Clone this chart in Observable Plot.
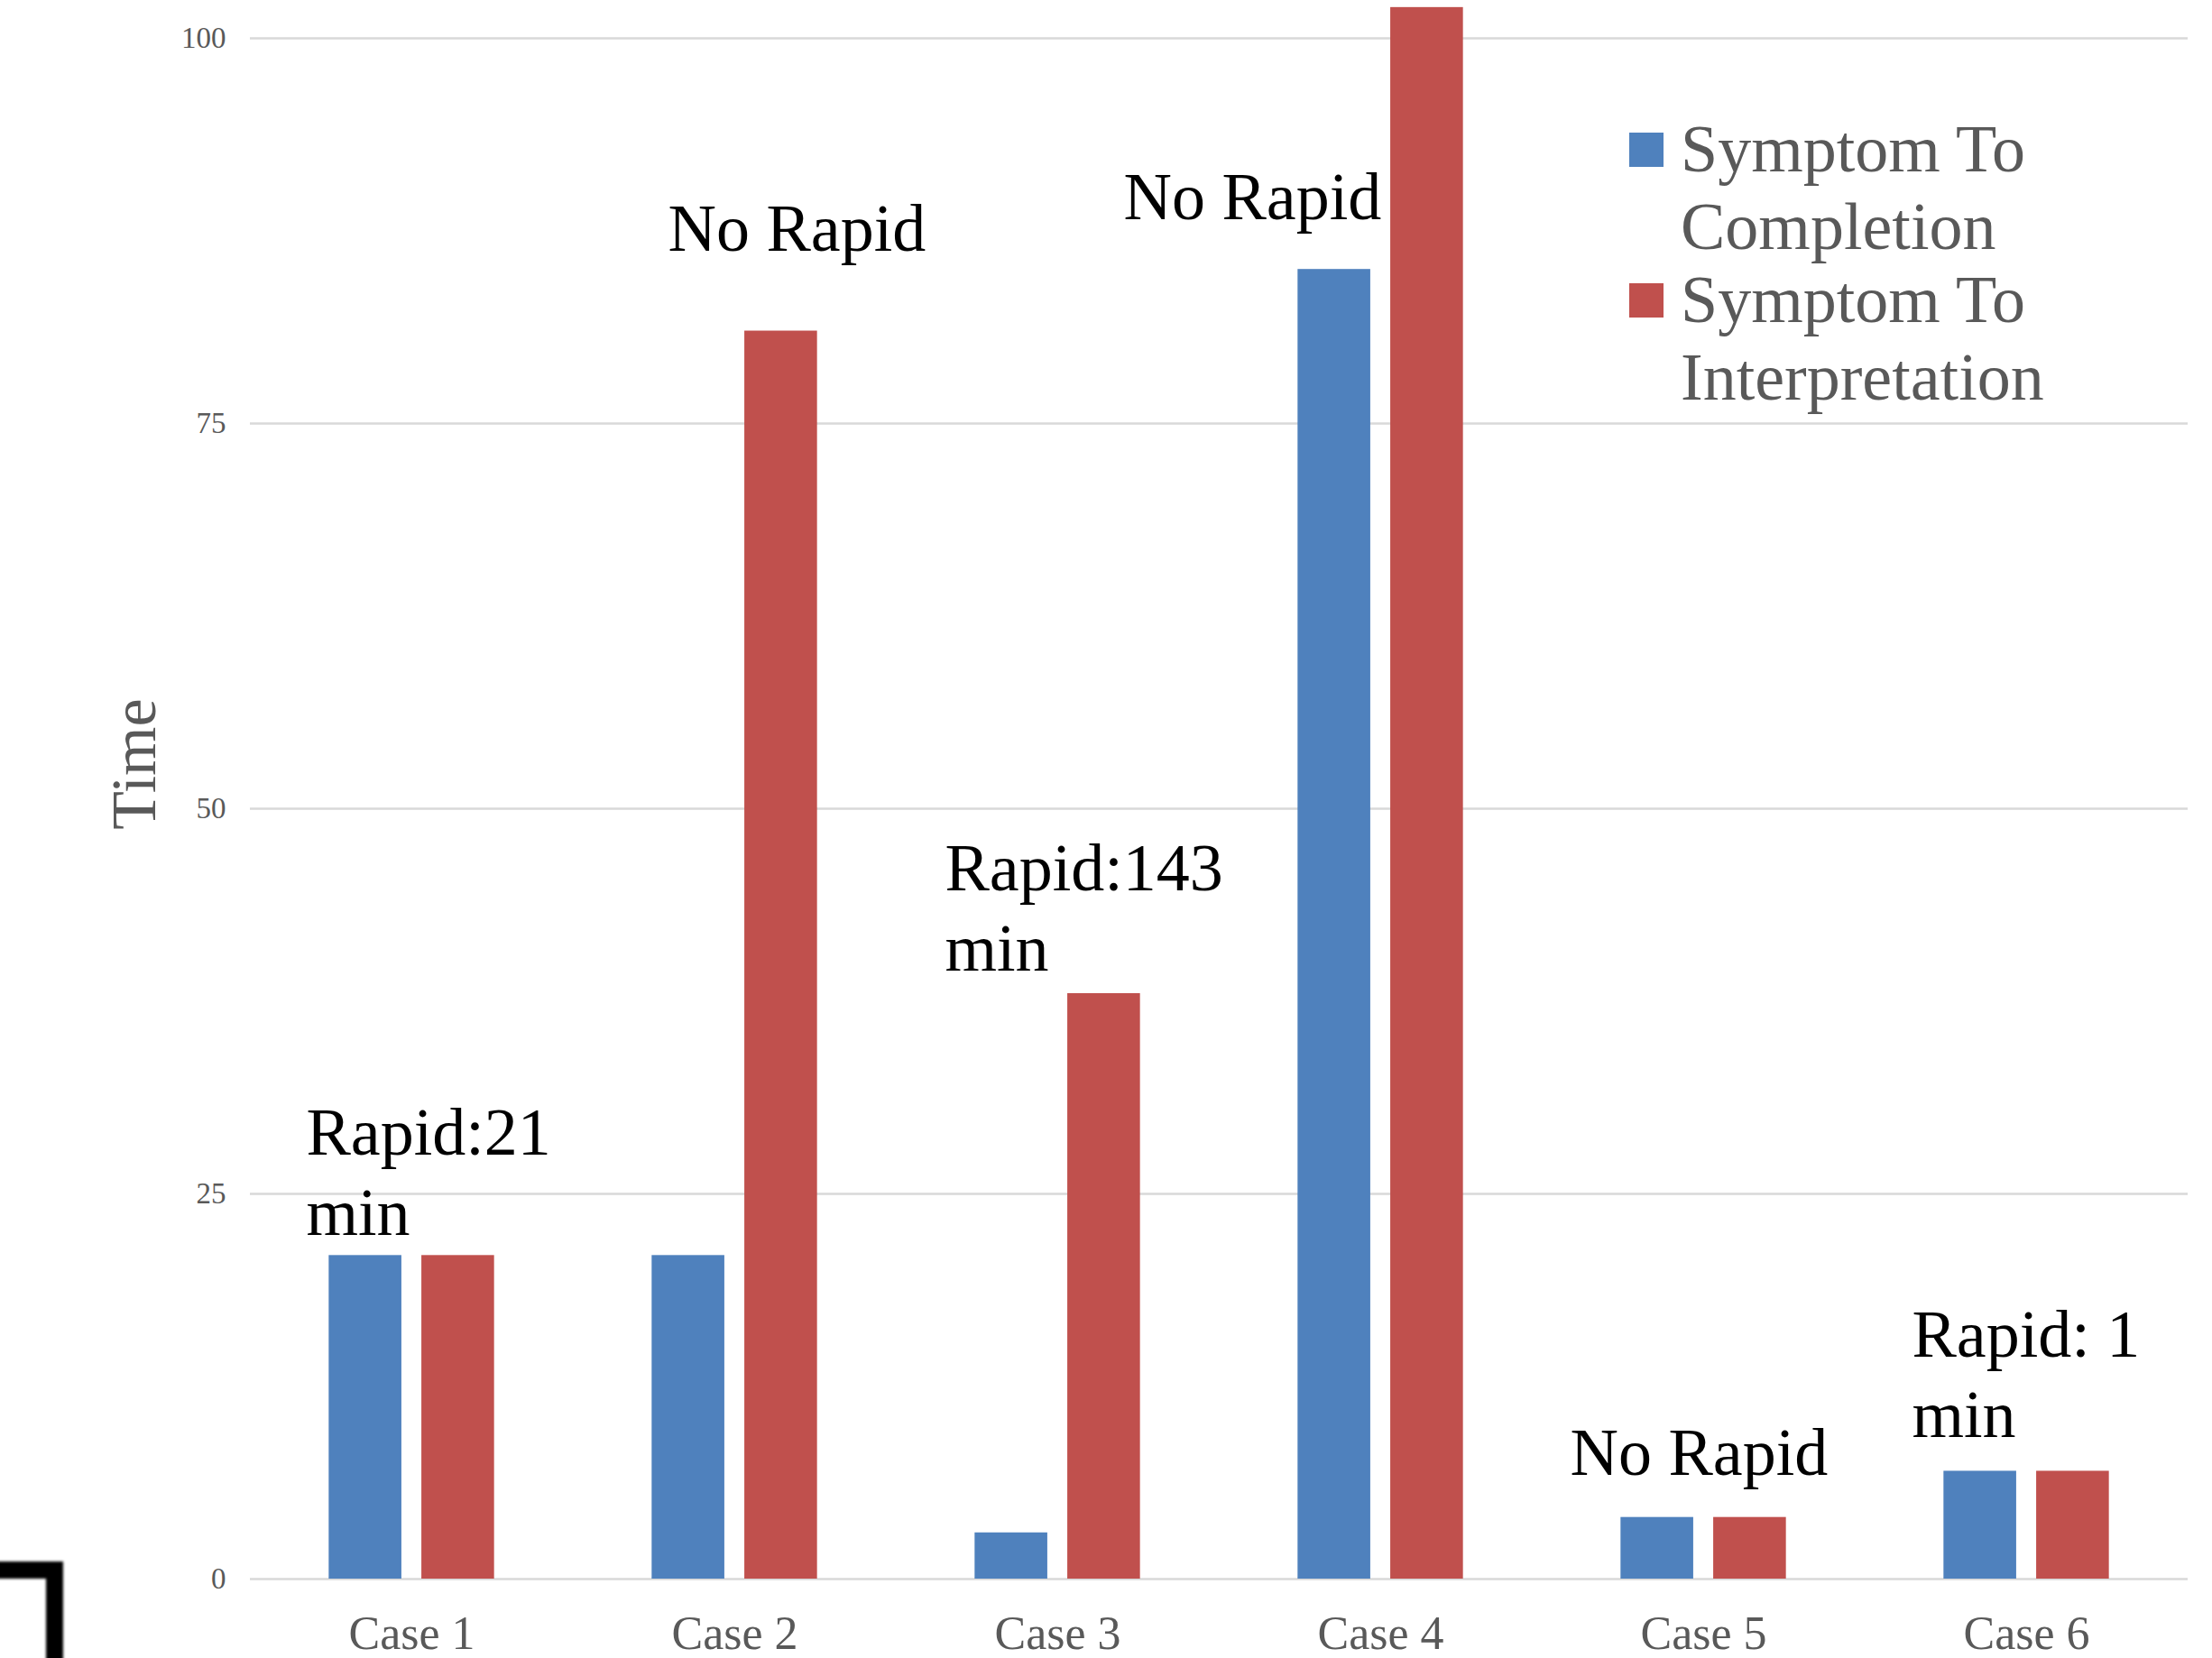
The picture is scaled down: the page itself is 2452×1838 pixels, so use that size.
<!DOCTYPE html>
<html>
<head>
<meta charset="utf-8">
<script src="https://cdn.jsdelivr.net/npm/d3@7"></script>
<script src="https://cdn.jsdelivr.net/npm/@observablehq/plot@0.6"></script>
<style>
  html, body { margin: 0; padding: 0; background: #fff; overflow: hidden; width: 2452px; height: 1838px; }
  #wrap { position: relative; width: 2452px; height: 1838px; overflow: hidden; }
  #chart svg { display: block; }
  .legend-item { position: absolute; left: 1806px; font-family: 'Liberation Serif', 'Times New Roman', serif; font-size: 74px; line-height: 86px; color: #595959; }
  .legend-item .sw { position: absolute; left: 0; top: 25px; width: 38px; height: 38px; }
  .legend-item .lb { position: absolute; left: 57px; top: 0; width: 460px; white-space: normal; }
  #ylabel { position: absolute; left: -50.7px; top: 812px; width: 400px; height: 70px; line-height: 70px; text-align: center; transform: rotate(-90deg); font-family: 'Liberation Serif', 'Times New Roman', serif; font-size: 70px; color: #595959; }
  #corner { position: absolute; left: -60px; top: 1731px; width: 111px; height: 200px; border-top: 19px solid #000; border-right: 19px solid #000; filter: blur(1.5px); }
</style>
</head>
<body>
<div id="wrap">
  <div id="chart"></div>
  <div id="ylabel"></div>
  <div id="legend"></div>
  <div id="corner"></div>
</div>
<script>
// ---- data ----
const cases = ["Case 1", "Case 2", "Case 3", "Case 4", "Case 5", "Case 6"];
const series = ["Symptom To Completion", "Symptom To Interpretation"];
const completion = [21, 21, 3, 85, 4, 7];
const interpretation = [21, 81, 38, 102, 4, 7];
const yTicks = [0, 25, 50, 75, 100];
const yLabel = "Time";
const annoCase = ["Case 1", "Case 2", "Case 3", "Case 4", "Case 5", "Case 6"];
const annoText = ["Rapid:21\nmin", "No Rapid", "Rapid:143\nmin", "No Rapid", "No Rapid", "Rapid: 1\nmin"];

// ---- styling / layout ----
const colors = ["#4F81BD", "#C0504D"];
const annoOffset = [[62, -382], [105, -1473], [54, -675], [-106, -1508], [31, -116], [52, -158]];
const serif = "'Liberation Serif', 'Times New Roman', serif";

const rows = cases.flatMap((c, i) => [
  {case: c, series: series[0], value: completion[i]},
  {case: c, series: series[1], value: interpretation[i]}
]);

const annotations = annoText.map((t, i) =>
  Plot.text([{case: annoCase[i], text: t}], {
    fx: "case",
    text: "text",
    frameAnchor: "bottom-left",
    textAnchor: "start",
    lineAnchor: "bottom",
    lineHeight: 1.19,
    fontSize: 74,
    fill: "black",
    dx: annoOffset[i][0],
    dy: annoOffset[i][1]
  })
);

const chart = Plot.plot({
  width: 2452,
  height: 1838,
  marginLeft: 274,
  marginRight: 25,
  marginTop: 42,
  marginBottom: 88,
  style: {fontFamily: serif, background: "white", overflow: "visible"},
  fx: {domain: cases, padding: 0, label: null},
  x: {domain: series, paddingInner: 0.2157, paddingOuter: 0.85, round: false, axis: null},
  y: {domain: [0, 100], label: null},
  color: {domain: series, range: colors},
  marks: [
    Plot.gridY(yTicks, {stroke: "#d9d9d9", strokeOpacity: 1, strokeWidth: 2.5}),
    Plot.barY(rows, {fx: "case", x: "series", y: "value", fill: "series"}),
    Plot.axisY(yTicks, {tickSize: 0, tickPadding: 27, fontSize: 33, fill: "#595959", label: null}),
    Plot.axisFx({anchor: "bottom", tickSize: 0, tickPadding: 41, fontSize: 52, fill: "#595959", label: null}),
    ...annotations
  ]
});
document.getElementById("chart").appendChild(chart);

// y label
document.getElementById("ylabel").textContent = yLabel;

// legend
const colorScale = chart.scale("color");
const legendTops = [122, 289];
const legend = document.getElementById("legend");
series.forEach((s, i) => {
  const item = document.createElement("div");
  item.className = "legend-item";
  item.style.top = legendTops[i] + "px";
  const sw = document.createElement("div");
  sw.className = "sw";
  sw.style.background = colorScale.range[i];
  const lb = document.createElement("div");
  lb.className = "lb";
  lb.textContent = s;
  item.appendChild(sw);
  item.appendChild(lb);
  legend.appendChild(item);
});
</script>
</body>
</html>
